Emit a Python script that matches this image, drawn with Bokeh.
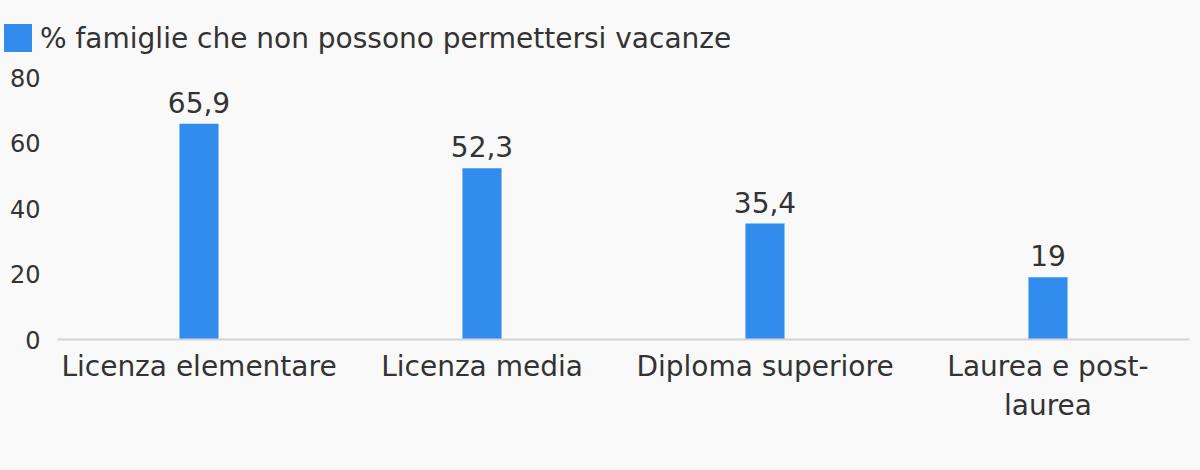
from bokeh.plotting import figure
from bokeh.layouts import column
from bokeh.models import ColumnDataSource, LabelSet, FixedTicker, Range1d, Div
from bokeh.core.properties import value
from bokeh.embed import file_html
from bokeh.resources import INLINE

# ---- data ----
categories = ["Licenza elementare", "Licenza media", "Diploma superiore", "Laurea e post-\nlaurea"]
values = [65.9, 52.3, 35.4, 19]
series_name = "% famiglie che non possono permettersi vacanze"
y_ticks = [0, 20, 40, 60, 80]

labels = [("%g" % v).replace(".", ",") for v in values]

FONT = "DejaVu Sans"
TXT = "#333333"
BG = "#f9f9f9"
BAR = "#318ced"

# ---------- legend strip ----------
legend_html = (
    '<div style="position:relative;width:1200px;height:60px;margin:0;padding:0;">'
    f'<div style="position:absolute;left:4px;top:24px;width:28px;height:28px;background:{BAR};"></div>'
    f'<div style="position:absolute;left:40px;top:25px;height:28px;line-height:28px;'
    f"font-family:'{FONT}';font-size:28px;color:{TXT};white-space:nowrap;\">{series_name}</div>"
    '</div>'
)
leg = Div(text=legend_html, width=1200, height=60, margin=(0, 0, 0, 0),
          styles={"background-color": BG})

# ---------- chart ----------
src = ColumnDataSource(dict(cat=categories, val=values, lab=labels))

p = figure(x_range=categories, y_range=Range1d(0, 80),
           width=1200, height=410, output_backend="svg", toolbar_location=None,
           min_border_left=57, min_border_right=11, min_border_top=17, min_border_bottom=131)

p.background_fill_color = BG
p.border_fill_color = BG
p.outline_line_color = None

p.vbar(x="cat", top="val", width=0.138, source=src, color=BAR, line_color=None)

p.add_layout(LabelSet(x="cat", y="val", text="lab", source=src, text_align="center",
                      text_baseline="alphabetic", y_offset=11,
                      text_font=value(FONT), text_font_size="28px", text_color=TXT))

p.xgrid.grid_line_color = None
p.ygrid.grid_line_color = None

# y axis
p.yaxis.ticker = FixedTicker(ticks=y_ticks)
p.yaxis.axis_line_color = None
p.yaxis.major_tick_line_color = None
p.yaxis.minor_tick_line_color = None
p.yaxis.major_tick_out = 0
p.yaxis.major_label_standoff = 17
p.yaxis.major_label_text_font = FONT
p.yaxis.major_label_text_font_size = "24px"
p.yaxis.major_label_text_color = TXT

# x axis
p.xaxis.axis_line_color = "#d3d3d3"
p.xaxis.axis_line_width = 2
p.xaxis.major_tick_line_color = None
p.xaxis.minor_tick_line_color = None
p.xaxis.major_tick_out = 0
p.xaxis.major_label_standoff = 10
p.xaxis.major_label_text_font = FONT
p.xaxis.major_label_text_font_size = "28px"
p.xaxis.major_label_text_color = TXT
p.x_range.range_padding = 0

layout = column(leg, p, spacing=0, styles={"background-color": BG})
open("out.html", "w").write(file_html(layout, INLINE))
